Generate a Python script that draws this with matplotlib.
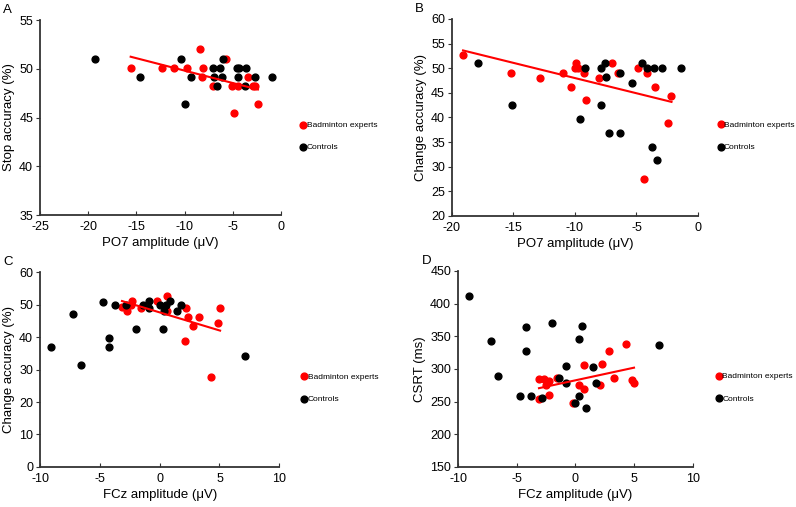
import numpy as np
import matplotlib.pyplot as plt

plt.rcParams['font.family'] = ['Liberation Sans', 'DejaVu Sans']
plt.rcParams['axes.unicode_minus'] = False

# ---- panel A : PO7 amplitude vs stop accuracy
a_exp_x = [-15.6, -12.3, -11.15, -9.75, -8.45, -8.1, -8.15, -7.05, -5.7, -5.1, -4.5,
           -4.85, -3.45, -2.95, -2.75, -2.4]
a_exp_y = [50.1, 50.1, 50.1, 50.1, 52.0, 50.1, 49.2, 48.2, 51.0, 48.2, 48.2,
           45.5, 49.2, 48.2, 48.2, 46.4]
a_con_x = [-19.25, -14.6, -10.4, -10.0, -9.35, -7.1, -7.0, -6.65, -6.3, -6.15, -6.05,
           -4.6, -4.35, -4.5, -3.7, -3.6, -2.7, -0.95]
a_con_y = [51.0, 49.2, 51.0, 46.4, 49.2, 50.1, 49.2, 48.2, 50.1, 49.2, 51.0,
           50.1, 50.1, 49.2, 48.2, 50.1, 49.2, 49.2]

# ---- panel B : PO7 amplitude vs change accuracy
b_exp_x = [-19.1, -15.2, -12.85, -11.0, -10.3, -9.9, -10.0, -9.75, -9.3, -9.1, -8.05,
           -7.0, -6.5, -4.85, -4.15, -3.5, -2.15, -2.4, -4.35]
b_exp_y = [52.7, 49.1, 48.1, 49.1, 46.2, 51.0, 50.0, 50.0, 49.1, 43.5, 48.1,
           51.0, 49.1, 50.0, 49.1, 46.2, 44.4, 38.9, 27.6]
b_con_x = [-17.9, -15.1, -9.15, -9.6, -7.85, -7.55, -7.5, -7.85, -6.3, -5.4, -4.55,
           -4.15, -3.6, -2.9, -1.4, -7.25, -6.3, -3.7, -3.35]
b_con_y = [51.0, 42.6, 50.0, 39.7, 50.0, 51.0, 48.2, 42.6, 49.1, 47.1, 51.0,
           50.0, 50.0, 50.0, 50.0, 36.9, 36.9, 34.1, 31.4]

# ---- panel C : FCz amplitude vs change accuracy
c_exp_x = [-3.15, -2.7, -2.4, -2.3, -1.6, -0.2, 0.65, 0.65, 2.2, 2.35, 3.3,
           2.8, 2.1, 4.3, 4.85, 5.05]
c_exp_y = [49.1, 48.1, 49.9, 51.0, 48.9, 51.0, 52.7, 48.1, 48.9, 46.3, 46.3,
           43.4, 38.8, 27.7, 44.4, 48.9]
c_con_x = [-9.1, -7.25, -6.55, -4.7, -3.75, -4.2, -4.2, -2.8, -2.0, -1.4, -0.9,
           -0.9, 0.0, 0.25, 0.35, 0.55, 0.9, 1.45, 1.8, 7.15]
c_con_y = [36.9, 47.2, 31.4, 50.9, 49.9, 39.8, 36.9, 49.9, 42.5, 49.9, 51.0,
           48.9, 49.9, 42.5, 48.1, 49.9, 51.0, 48.1, 49.9, 34.1]

# ---- panel D : FCz amplitude vs CSRT
d_exp_x = [-3.1, -3.1, -2.7, -2.5, -2.25, -2.25, -1.6, -0.2, 0.3, 0.7, 0.75,
           2.1, 2.3, 2.85, 3.3, 4.3, 4.8, 5.0]
d_exp_y = [284.7, 254.6, 284.7, 275.5, 281.6, 260.2, 286.2, 248.0, 275.0, 305.6, 268.9,
           276.0, 307.6, 328.0, 286.2, 337.8, 282.7, 278.1]
d_con_x = [-9.1, -7.2, -6.55, -4.7, -4.2, -4.2, -3.75, -2.8, -2.0, -1.4, -0.8,
           -0.8, 0.0, 0.3, 0.55, 0.3, 0.9, 1.5, 1.8, 7.1]
d_con_y = [412.2, 342.9, 288.8, 259.1, 364.8, 328.0, 258.2, 255.6, 370.4, 286.2, 304.6,
           278.6, 248.0, 345.9, 365.8, 259.1, 240.8, 303.5, 278.1, 336.7]

panels = [
    dict(letter="A", pos=[0.0503, 0.5759, 0.3028, 0.3846], leg=(1.065, 0.5),
         ex=a_exp_x, ey=a_exp_y, cx=a_con_x, cy=a_con_y,
         xlim=(-25, 0), xticks=[-25, -20, -15, -10, -5, 0],
         ylim=(35, 55), yticks=[35, 40, 45, 50, 55],
         xlabel="PO7 amplitude (\u03bcV)", ylabel="Stop accuracy (%)"),
    dict(letter="B", pos=[0.5678, 0.574, 0.309, 0.3886], leg=(1.065, 0.5),
         ex=b_exp_x, ey=b_exp_y, cx=b_con_x, cy=b_con_y,
         xlim=(-20, 0), xticks=[-20, -15, -10, -5, 0],
         ylim=(20, 60), yticks=[20, 25, 30, 35, 40, 45, 50, 55, 60],
         xlabel="PO7 amplitude (\u03bcV)", ylabel="Change accuracy (%)"),
    dict(letter="C", pos=[0.0503, 0.0789, 0.3006, 0.3846], leg=(1.076, 0.5),
         ex=c_exp_x, ey=c_exp_y, cx=c_con_x, cy=c_con_y,
         xlim=(-10, 10), xticks=[-10, -5, 0, 5, 10],
         ylim=(0, 60), yticks=[0, 10, 20, 30, 40, 50, 60],
         xlabel="FCz amplitude (\u03bcV)", ylabel="Change accuracy (%)"),
    dict(letter="D", pos=[0.5754, 0.0789, 0.2948, 0.3866], leg=(1.083, 0.5),
         ex=d_exp_x, ey=d_exp_y, cx=d_con_x, cy=d_con_y,
         xlim=(-10, 10), xticks=[-10, -5, 0, 5, 10],
         ylim=(150, 450), yticks=[150, 200, 250, 300, 350, 400, 450],
         xlabel="FCz amplitude (\u03bcV)", ylabel="CSRT (ms)"),
]

fig = plt.figure(figsize=(7.96, 5.07), dpi=100)

for p in panels:
    ax = fig.add_axes(p["pos"])
    ax.scatter(p["ex"], p["ey"], s=24, color="#ff0000", label="Badminton experts", zorder=3)
    ax.scatter(p["cx"], p["cy"], s=24, color="black", label="Controls", zorder=3)

    # linear fit for the experts
    ex = np.array(p["ex"])
    k, b = np.polyfit(ex, np.array(p["ey"]), 1)
    xs = np.array([ex.min(), ex.max()])
    ax.plot(xs, k * xs + b, color="#ff0000", lw=1.5, zorder=4)

    ax.set_xlim(p["xlim"])
    ax.set_ylim(p["ylim"])
    ax.set_xticks(p["xticks"])
    ax.set_yticks(p["yticks"])
    ax.set_xlabel(p["xlabel"], fontsize=9.5, labelpad=3)
    ax.set_ylabel(p["ylabel"], fontsize=9.5, labelpad=3)
    for s in ["top", "right"]:
        ax.spines[s].set_visible(False)
    for s in ["left", "bottom"]:
        ax.spines[s].set_color("#333333")
        ax.spines[s].set_linewidth(1.3)
    ax.tick_params(axis="x", direction="in", length=3, labelsize=9, color="#333333", pad=4)
    ax.tick_params(axis="y", direction="out", length=3, labelsize=9, color="#333333", pad=2)

    ax.legend(loc="upper left", bbox_to_anchor=p["leg"], frameon=False,
              fontsize=6, handletextpad=0.0, labelspacing=1.75,
              handlelength=0.8, borderaxespad=0, scatterpoints=1)

    fig.text(p["pos"][0] - 0.046, p["pos"][1] + p["pos"][3] + 0.008, p["letter"],
             fontsize=9.5, va="bottom", ha="left")

fig.savefig("out.png", dpi=100)
